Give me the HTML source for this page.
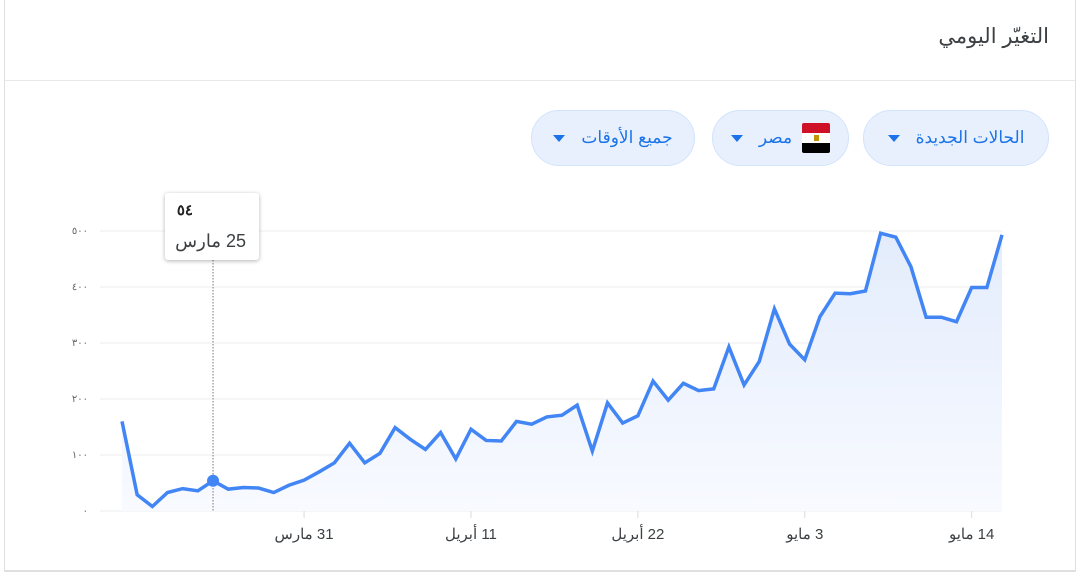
<!DOCTYPE html>
<html><head><meta charset="utf-8">
<style>
body{margin:0;width:1082px;height:579px;background:#fff;font-family:"Liberation Sans","Noto Sans CJK SC",sans-serif;overflow:hidden;position:relative}
.card{position:absolute;left:4px;top:-2px;width:1070px;height:573px;border:1px solid #e0e0e0;border-top:none}
.title{position:absolute;right:33px;top:24px;font-size:21px;color:#3c4043;direction:rtl}
.divider{position:absolute;left:5px;right:7px;top:80px;height:1px;background:#e8e8e8}
.pill{position:absolute;top:110px;height:56px;border-radius:28px;background:#e8f0fe;border:1px solid #d2e3fc;box-sizing:border-box;color:#1a73e8;font-size:17px;display:flex;align-items:center;justify-content:center;direction:rtl;gap:10px}
.tri{width:0;height:0;border-left:6px solid transparent;border-right:6px solid transparent;border-top:7px solid #1a73e8;margin-right:6px}
.flag{width:28px;height:30px;display:flex;flex-direction:column;border-radius:2px;overflow:hidden}
</style></head><body>
<div class="card"></div>
<div class="title">التغيّر اليومي</div>
<div class="divider"></div>
<div class="pill" style="left:863px;width:186px"><span>الحالات الجديدة</span><span class="tri"></span></div>
<div class="pill" style="left:712px;width:137px"><span class="flag"><span style="flex:1;background:#ce1126"></span><span style="flex:1;background:#fff;display:flex;justify-content:center;align-items:center"><span style="width:5px;height:6px;background:#c09300"></span></span><span style="flex:1;background:#000"></span></span><span>مصر</span><span class="tri"></span></div>
<div class="pill" style="left:531px;width:164px"><span>جميع الأوقات</span><span class="tri"></span></div>
<svg id="chart" width="1082" height="579" style="position:absolute;left:0;top:0">
<defs><linearGradient id="g" x1="0" y1="0" x2="0" y2="1"><stop offset="0" stop-color="#e3ecfc"/><stop offset="1" stop-color="#f8faff"/></linearGradient></defs>
</svg>
<div style="position:absolute;left:165px;top:193px;width:94px;height:67px;background:#fff;border-radius:3px;box-shadow:0 1px 4px rgba(0,0,0,.3);direction:rtl;font-family:'Liberation Sans','Noto Sans CJK SC',sans-serif">
<div style="position:absolute;right:66px;top:8px;font-size:15px;font-weight:bold;color:#222">٥٤</div>
<div style="position:absolute;right:13px;top:38px;font-size:18px;color:#3c4043">25 مارس</div>
</div>
<script>
const values=[160,29,8,33,40,36,54,39,42,41,33,46,55,70,86,121,86,103,149,128,110,140,93,146,126,125,160,155,168,171,189,107,193,157,170,232,198,228,215,218,293,225,267,361,298,270,347,389,388,393,496,489,436,346,346,338,399,399,493];
const yTicks=[0,100,200,300,400,500];
const yTickLabels=['٠','١٠٠','٢٠٠','٣٠٠','٤٠٠','٥٠٠'];
const xTickIdx=[12,23,34,45,56];
const xTickLabels=['31 مارس','11 أبريل','22 أبريل','3 مايو','14 مايو'];
const hoverIdx=6;
const NS='http://www.w3.org/2000/svg';
const svg=document.getElementById('chart');
const x0=122,x1=1002,yBase=511,yTop=231,yMax=500;
const X=i=>x0+i*(x1-x0)/(values.length-1);
const Y=v=>yBase-v*(yBase-yTop)/yMax;
function mk(t,a){const e=document.createElementNS(NS,t);for(const k in a)e.setAttribute(k,a[k]);svg.appendChild(e);return e;}
yTicks.forEach((v,i)=>{
 const l=mk('line',{x1:100,x2:1002,y1:Y(v),y2:Y(v),stroke:'#eeeeee'});
 
 
 const t=mk('text',{x:88,y:Y(v)+3,'text-anchor':'end','font-size':'10',fill:'#5f6368','font-family':'Liberation Sans, Noto Sans CJK SC, sans-serif'});
 t.textContent=yTickLabels[i];
 
 
});
let d='M'+X(0)+','+Y(values[0]);
values.forEach((v,i)=>{if(i)d+=' L'+X(i)+','+Y(v);});
const area=mk('path',{d:d+' L'+X(values.length-1)+','+yBase+' L'+X(0)+','+yBase+' Z',fill:'url(#g)'});


xTickIdx.forEach((idx,i)=>{
 const tk=mk('line',{x1:X(idx),x2:X(idx),y1:511,y2:518,stroke:'#dadce0'});
 
 
 const t=mk('text',{x:X(idx),y:539,'text-anchor':'middle','font-size':'15',fill:'#3c4043',direction:'rtl','font-family':'Liberation Sans, Noto Sans CJK SC, sans-serif'});
 t.textContent=xTickLabels[i];
 
 
});
const hl=mk('line',{x1:X(hoverIdx),x2:X(hoverIdx),y1:260,y2:511,stroke:'#777','stroke-dasharray':'1.5,1.5','stroke-width':1});


const line=mk('path',{d:d,fill:'none',stroke:'#4285f4','stroke-width':3.5,'stroke-linejoin':'miter'});


const dot=mk('circle',{cx:X(hoverIdx),cy:Y(values[hoverIdx]),r:6,fill:'#4285f4'});


const bl=mk('line',{x1:5,x2:1075,y1:570.5,y2:570.5,stroke:'#e0e0e0'});


</script>
</body></html>
